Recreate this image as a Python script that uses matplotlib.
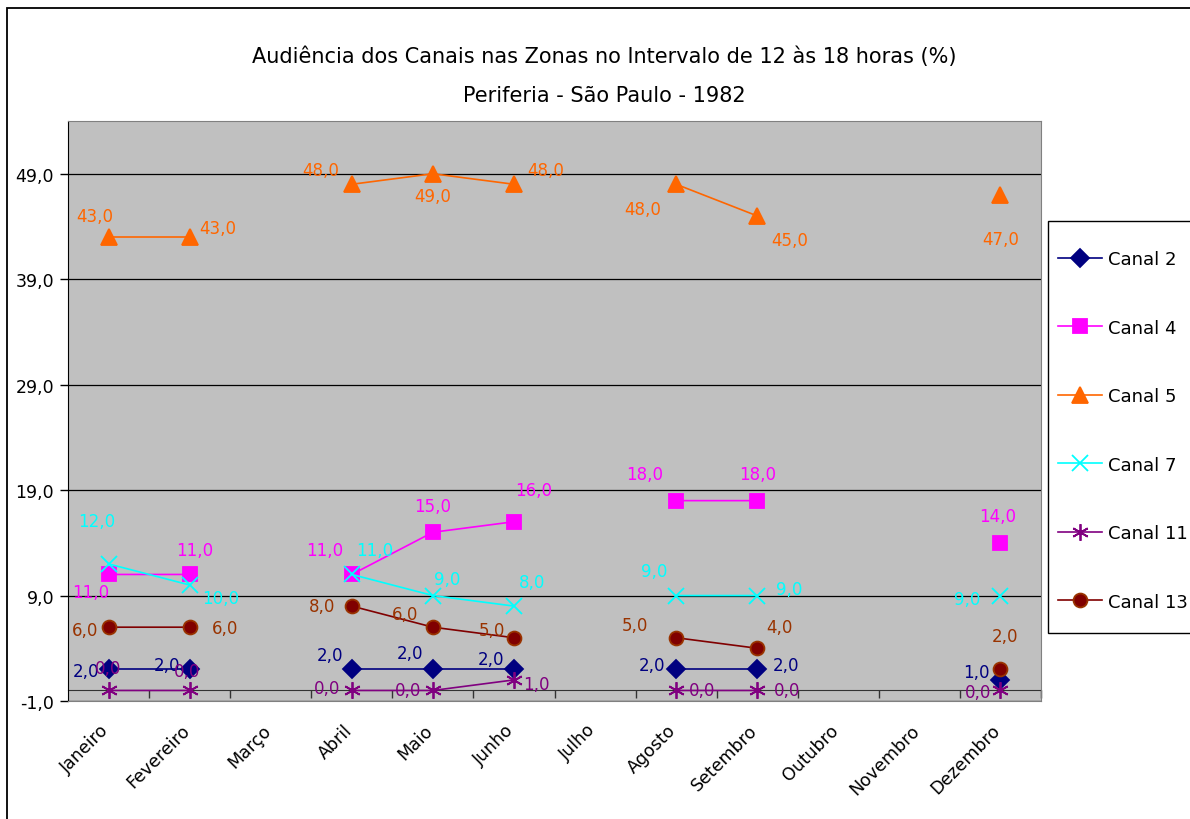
import numpy as np
import matplotlib
matplotlib.use("Agg")
import matplotlib.pyplot as plt
import matplotlib.transforms as mtransforms
from matplotlib.patches import Rectangle

nan = np.nan
meses = ["Janeiro", "Fevereiro", "Março", "Abril", "Maio", "Junho", "Julho",
         "Agosto", "Setembro", "Outubro", "Novembro", "Dezembro"]

canal2 = [2, 2, nan, 2, 2, 2, nan, 2, 2, nan, nan, 1]
canal4 = [11, 11, nan, 11, 15, 16, nan, 18, 18, nan, nan, 14]
canal5 = [43, 43, nan, 48, 49, 48, nan, 48, 45, nan, nan, 47]
canal7 = [12, 10, nan, 11, 9, 8, nan, 9, 9, nan, nan, 9]
canal11 = [0, 0, nan, 0, 0, 1, nan, 0, 0, nan, nan, 0]
canal13 = [6, 6, nan, 8, 6, 5, nan, 5, 4, nan, nan, 2]

yticks = [-1, 9, 19, 29, 39, 49]

# (name, data, line color, marker, marker size, face, edge, label color)
series = [
    ("Canal 2", canal2, "#000080", "D", 9, "#000080", "#000080", "#000080"),
    ("Canal 4", canal4, "#FF00FF", "s", 10, "#FF00FF", "#FF00FF", "#FF00FF"),
    ("Canal 5", canal5, "#FF6600", "^", 12, "#FF6600", "#FF6600", "#FF6600"),
    ("Canal 7", canal7, "#00FFFF", "x", 11, "#00FFFF", "#00FFFF", "#00FFFF"),
    ("Canal 11", canal11, "#800080", (6, 2, 0), 12, "#800080", "#800080", "#800080"),
    ("Canal 13", canal13, "#800000", "o", 10, "#800000", "#993300", "#993300"),
]

# label offsets in pixels (dx right, dy down) for the points that exist
offsets = {
    "Canal 2": [(-23, 2), (-23, -4), (-22, -14), (-23, -16), (-23, -10), (-24, -4), (29, -4), (-24, -8)],
    "Canal 4": [(-18, 18), (5, -24), (-27, -24), (0, -26), (20, -32), (-31, -27), (0, -27), (-3, -27)],
    "Canal 5": [(-14, -21), (28, -9), (-31, -14), (0, 22), (32, -14), (-33, 25), (32, 24), (0, 44)],
    "Canal 7": [(-12, -43), (31, 13), (23, -24), (14, -17), (18, -24), (-22, -25), (32, -7), (-33, 3)],
    "Canal 11": [(0, -22), (-3, -19), (-25, -2), (-25, 0), (22, 4), (26, 0), (30, 0), (-22, 2)],
    "Canal 13": [(-23, 3), (35, 1), (-30, 0), (-28, -13), (-22, -8), (-41, -13), (22, -21), (5, -33)],
}

plt.rcParams['font.family'] = ['DejaVu Sans']
fig = plt.figure(figsize=(11.9, 8.2), dpi=100)
# outer chart frame (runs off the right and bottom edges)
fig.patches.append(Rectangle((7 / 1190, -0.1), 1.2, 1.1 - 9 / 820, transform=fig.transFigure,
                             fill=False, edgecolor="black", linewidth=1.3, zorder=-2))
# legend box
fig.patches.append(Rectangle((1048 / 1190, 1 - 634 / 820), 0.2, (634 - 222) / 820,
                             transform=fig.transFigure, facecolor="white",
                             edgecolor="black", linewidth=1, zorder=-1))

ax = fig.add_axes([68 / 1190, 1 - 702 / 820, (1041 - 68) / 1190, (702 - 122) / 820])
ax.set_facecolor("#C0C0C0")
x = np.arange(len(meses))

for name, data, col, mk, ms, fc, ec, lc in series:
    ax.plot(x, data, color=col, lw=1.2, marker=mk, markersize=ms,
            markerfacecolor=fc, markeredgecolor=ec, markeredgewidth=1.3, label=name)
    k = 0
    for xi, v in zip(x, data):
        if np.isnan(v):
            continue
        dx, dy = offsets[name][k]
        k += 1
        ax.annotate(("%.1f" % v).replace(".", ","), (xi, v), xytext=(dx, -dy),
                    textcoords="offset pixels", ha="center", va="center",
                    color=lc, fontsize=12)

ax.set_xlim(-0.5, 11.5)
ax.set_ylim(-1, 54)
ax.set_yticks(yticks)
ax.set_yticklabels([("%.1f" % t).replace(".", ",") for t in yticks], fontsize=12.5)
ax.yaxis.grid(True, color="black", lw=0.9)
ax.set_axisbelow(True)
ax.tick_params(axis="y", direction="out", length=6, width=1, pad=4)
ax.set_xticks(x)
ax.set_xticklabels(meses, rotation=45, ha="right", rotation_mode="anchor", fontsize=12.5)
ax.tick_params(axis="x", length=0, pad=14)
shift = mtransforms.ScaledTranslation(-9 / 100, 0, fig.dpi_scale_trans)
for lab in ax.get_xticklabels():
    lab.set_transform(lab.get_transform() + shift)
for s in ["top", "right", "bottom"]:
    ax.spines[s].set_color("#808080")
ax.spines["left"].set_color("black")

sec = ax.secondary_xaxis(1 / 55)
sec.set_xticks(np.arange(0.5, 12, 1))
sec.set_xticklabels([])
sec.tick_params(direction="out", length=6, width=1, color="#333333")
sec.spines["bottom"].set_color("#333333")

fig.text(0.508, 1 - 57 / 820, "Audiência dos Canais nas Zonas no Intervalo de 12 às 18 horas (%)",
         ha="center", va="center", fontsize=15)
fig.text(0.508, 1 - 96 / 820, "Periferia - São Paulo - 1982", ha="center", va="center", fontsize=15)

leg = ax.legend(loc="upper left", bbox_to_anchor=(1058 / 1190, 1 - 251 / 820),
                bbox_transform=fig.transFigure, fontsize=13, frameon=False,
                labelspacing=2.8, handlelength=2.45, borderpad=0, borderaxespad=0,
                handletextpad=0.3)

plt.savefig("out.png", dpi=100)
